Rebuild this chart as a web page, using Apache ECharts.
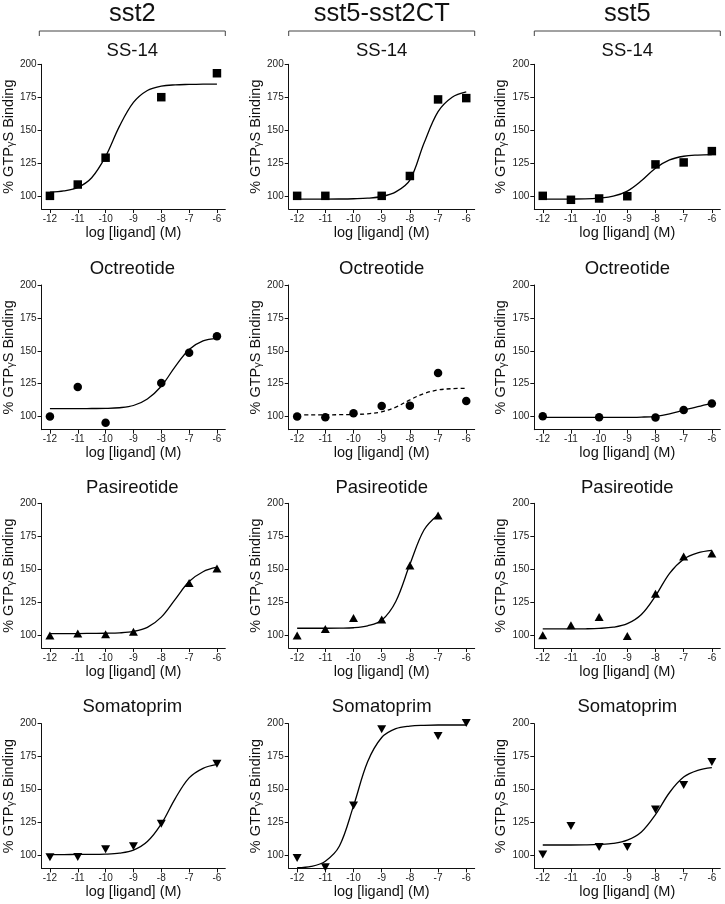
<!DOCTYPE html>
<html><head><meta charset="utf-8">
<script src="https://cdn.jsdelivr.net/npm/echarts@6/dist/echarts.min.js"></script>
<style>html,body{margin:0;padding:0;background:#fff}#c{width:725px;height:904px}</style>
</head><body><div id="c"></div>
<script>
// ---------- data ----------
const receptors = ['sst2', 'sst5-sst2CT', 'sst5'];
const ligands = ['SS-14', 'Octreotide', 'Pasireotide', 'Somatoprim'];
const doseX = [-12, -11, -10, -9, -8, -7, -6];
const fitX = [-12, -11.5, -11, -10.5, -10, -9.5, -9, -8.5, -8, -7.5, -7, -6.5, -6];
const xTicks = [-12, -11, -10, -9, -8, -7, -6];
const yTicks = [100, 125, 150, 175, 200];
const yAxisTitle = '% GTP{g|γ}S Binding';
const xAxisTitle = 'log [ligand] (M)';

// measured points (% GTPγS binding) at doseX
const sst2_SS14        = [100, 108.6, 129, null, 175, null, 193.2];
const sst5sst2CT_SS14  = [100, 100, null, 100, 115.1, 173.3, 174.3];
const sst5_SS14        = [100, 97, 98, 99.7, 123.9, 125.4, 134];
const sst2_Oct         = [100, 122.5, 95.2, null, 125.5, 148.5, 161.1];
const sst5sst2CT_Oct   = [100, 99.5, 102.5, 108.1, 108.3, 133.1, 111.9];
const sst5_Oct         = [100.2, null, 99.5, null, 99.2, 105, 110];
const sst2_Pas         = [99.5, 101.1, 100.5, 102.3, null, 139.4, 150.5];
const sst5sst2CT_Pas   = [99.5, 104.5, 112.9, 111.6, 152.8, 190.7, null];
const sst5_Pas         = [99.7, 107.3, 113.6, 99.2, 131.3, 159.6, 161.9];
const sst2_Som         = [98.5, 98.7, 104.5, 106.8, 123.9, null, 169.5];
const sst5sst2CT_Som   = [98, 90.9, 137.8, 195.7, null, 190.7, 200.5];
const sst5_Som         = [100.5, 122.2, 106.3, 106.3, 134.8, 153.4, 170.8];

// fitted curves at fitX
const sst2_SS14_fit       = [102.9, 103.8, 106.4, 113.8, 130, 153, 171, 180.1, 183.4, 184.4, 184.7, 184.9, 185];
const sst5sst2CT_SS14_fit = [97.5, 97.5, 97.5, 97.6, 97.8, 98.2, 99.5, 103, 112, 140, 164, 175, 179];
const sst5_SS14_fit       = [97.5, 97.5, 97.6, 97.7, 98.3, 99.7, 103.6, 111.4, 121, 127.3, 130.1, 131, 131.3];
const sst2_Oct_fit        = [106, 106, 106, 106.1, 106.2, 106.7, 108.4, 113.4, 123, 138, 151, 157.5, 159.5];
const sst5sst2CT_Oct_fit  = [101.3, 101.3, 101.3, 101.4, 101.6, 102.1, 103.6, 107.1, 112.7, 117.5, 120.2, 121.2, 121.5];
const sst5_Oct_fit        = [99.3, 99.3, 99.3, 99.3, 99.3, 99.3, 99.4, 99.6, 100.2, 102, 104.8, 107.5, 110];
const sst2_Pas_fit        = [101, 101, 101, 101.1, 101.2, 101.5, 102.6, 105.7, 113.5, 127, 140.5, 148, 151.4];
const sst5sst2CT_Pas_fit  = [105, 105, 105, 105.1, 105.4, 106.9, 111.1, 125.4, 153.6, 179.7, 191.3, null, null];
const sst5_Pas_fit        = [104.5, 104.5, 104.5, 104.6, 104.9, 105.8, 108.5, 115.5, 129.6, 146.8, 157.5, 162.3, 164.2];
const sst2_Som_fit        = [100.5, 100.5, 100.6, 100.6, 100.8, 101.6, 103.9, 110.4, 123.8, 143.1, 158.8, 166.1, 169.1];
const sst5sst2CT_Som_fit  = [90.5, 91.5, 95.5, 107, 137.5, 171, 189.5, 196.2, 198.2, 198.8, 199, 199, 199];
const sst5_Som_fit        = [107.8, 107.8, 107.8, 107.9, 108.2, 109, 111.5, 117.7, 130.9, 147.7, 159.4, 164.5, 166.6];

const pointsGrid = [
  [sst2_SS14, sst5sst2CT_SS14, sst5_SS14],
  [sst2_Oct, sst5sst2CT_Oct, sst5_Oct],
  [sst2_Pas, sst5sst2CT_Pas, sst5_Pas],
  [sst2_Som, sst5sst2CT_Som, sst5_Som]
];
const fitsGrid = [
  [sst2_SS14_fit, sst5sst2CT_SS14_fit, sst5_SS14_fit],
  [sst2_Oct_fit, sst5sst2CT_Oct_fit, sst5_Oct_fit],
  [sst2_Pas_fit, sst5sst2CT_Pas_fit, sst5_Pas_fit],
  [sst2_Som_fit, sst5sst2CT_Som_fit, sst5_Som_fit]
];

// ---------- layout / style ----------
const F = '"Liberation Sans", Arial, Helvetica, sans-serif';
const colLeft = [39.3, 288.7, 534.3];
const gridW = 186;
const rowTop = [64.3, 285, 503.3, 723.7];
const gridH = 144.7;
const subY = [50.5, 269, 488, 707];
const symbols = [
  {symbol: 'rect', size: 8.5, rotate: 0},
  {symbol: 'circle', size: 8.5, rotate: 0},
  {symbol: 'triangle', size: [9, 8], rotate: 0},
  {symbol: 'triangle', size: [9, 8], rotate: 180}
];

const grids = [], xAxes = [], yAxes = [], series = [], graphics = [];
let idx = 0;
for (let r = 0; r < 4; r++) {
  for (let c = 0; c < 3; c++) {
    grids.push({left: colLeft[c], top: rowTop[r], width: gridW, height: gridH, containLabel: false});
    xAxes.push({
      type: 'value', gridIndex: idx, min: -12.3, max: -5.7,
      name: xAxisTitle, nameLocation: 'middle', nameGap: 16,
      nameTextStyle: {fontFamily: F, fontSize: 14.5, color: '#111', verticalAlign: 'top'},
      axisLine: {show: true, onZero: false, lineStyle: {color: '#111', width: 1}},
      axisTick: {show: true, length: 4, customValues: xTicks, lineStyle: {color: '#111'}},
      axisLabel: {customValues: xTicks, fontFamily: F, fontSize: 10, color: '#222', margin: 5},
      splitLine: {show: false}
    });
    yAxes.push({
      type: 'value', gridIndex: idx, min: 90, max: 200,
      name: yAxisTitle, nameLocation: 'middle', nameGap: 22,
      nameTextStyle: {fontFamily: F, fontSize: 14.5, color: '#111',
        rich: {g: {fontFamily: F, fontSize: 11, color: '#111', verticalAlign: 'bottom', padding: [4, 0, 0, 0]}}},
      axisLine: {show: true, onZero: false, lineStyle: {color: '#111', width: 1}},
      axisTick: {show: true, length: 4, customValues: yTicks, lineStyle: {color: '#111'}},
      axisLabel: {customValues: yTicks, fontFamily: F, fontSize: 10, color: '#222', margin: 5},
      splitLine: {show: false}
    });
    const fit = fitsGrid[r][c];
    series.push({
      type: 'line', xAxisIndex: idx, yAxisIndex: idx,
      data: fitX.map((x, i) => [x, fit[i]]).filter(d => d[1] !== null),
      smooth: 0.35, showSymbol: false, symbol: 'none', clip: false,
      lineStyle: {color: '#000', width: 1.3, type: (r === 1 && c === 1) ? [4, 3] : 'solid'},
      silent: true, z: 2
    });
    const pts = pointsGrid[r][c];
    const s = symbols[r];
    series.push({
      type: 'scatter', xAxisIndex: idx, yAxisIndex: idx,
      data: doseX.map((x, i) => [x, pts[i]]).filter(d => d[1] !== null),
      symbol: s.symbol, symbolSize: s.size, symbolRotate: s.rotate, clip: false,
      itemStyle: {color: '#000', opacity: 1}, z: 3
    });
    graphics.push({
      type: 'text', x: colLeft[c] + gridW / 2, y: subY[r],
      style: {text: ligands[r], font: '18.5px ' + F, fill: '#111', textAlign: 'center', textVerticalAlign: 'middle'}
    });
    idx++;
  }
}
for (let c = 0; c < 3; c++) {
  const x1 = colLeft[c], x2 = colLeft[c] + gridW;
  graphics.push({
    type: 'text', x: (x1 + x2) / 2, y: 14,
    style: {text: receptors[c], font: '25.5px ' + F, fill: '#111', textAlign: 'center', textVerticalAlign: 'middle'}
  });
  graphics.push({
    type: 'polyline', shape: {points: [[x1, 36], [x1, 31], [x2, 31], [x2, 36]]},
    style: {stroke: '#444', lineWidth: 1, fill: null}
  });
}

const chart = echarts.init(document.getElementById('c'), null, {renderer: 'canvas'});
chart.setOption({
  animation: false,
  backgroundColor: '#fff',
  grid: grids, xAxis: xAxes, yAxis: yAxes, series: series, graphic: graphics
});
</script>
</body></html>
